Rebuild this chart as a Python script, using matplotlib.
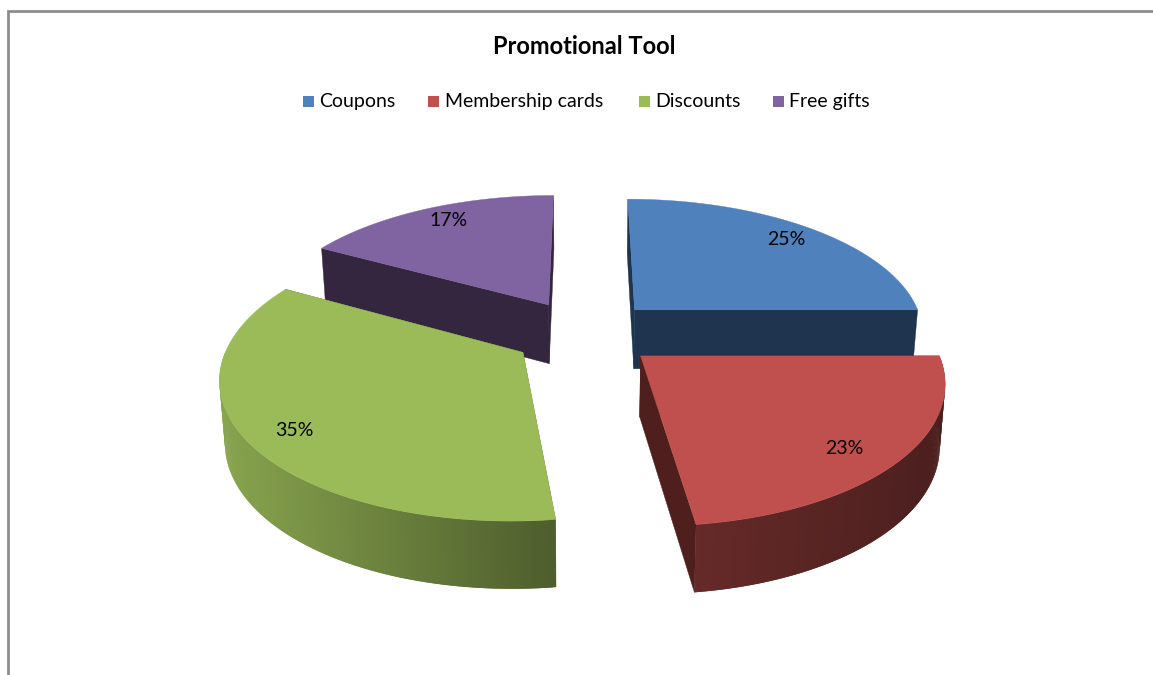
import matplotlib
matplotlib.use("Agg")
import matplotlib.pyplot as plt
import numpy as np

title = "Promotional Tool"
categories = ["Coupons", "Membership cards", "Discounts", "Free gifts"]
percents = [25, 23, 35, 17]

top_colors = ["#4F81BD", "#C0504D", "#9BBB59", "#8064A2"]
cut_colors = ["#1F344E", "#4F1F1E", "#5A6E33", "#35263F"]
# brightness of the outer wall, by pixel column
wall_x = [217, 554, 692, 945]
wall_shade = [0.88, 0.50, 0.53, 0.39]

legend_squares = [303, 428, 639, 773]
legend_text = [319.5, 445, 655.5, 789]
# small pixel nudges for the percent labels
label_dx = [9, 2, -11, 0]
label_dy = [-4, 10, 10, -6]

plt.rcParams["font.family"] = ["Lato", "DejaVu Sans"]

# perspective of the pie plane, in pixels
cx, cy = 584.5, 333
sx, sy = 291, 135
persp = 0.159
explode = 0.25
depth = 60
depth_persp = 0.1
shrink = 0.985


def project(X, Y):
    w = 1 - persp * Y
    return cx + X * sx / w, cy + Y * sy / w


def lower(X, Y):
    # same point on the underside of the pie
    w = 1 - persp * Y
    return cx + shrink * X * sx / w, cy + Y * sy / w + depth / (1 - depth_persp * Y)


def rim_points(a0, a1, mid):
    ang = np.radians(np.linspace(a0, a1, max(int(a1 - a0), 2) * 2 + 1))
    ox = explode * np.sin(np.radians(mid))
    oy = -explode * np.cos(np.radians(mid))
    return ang, ox + np.sin(ang), oy - np.cos(ang), ox, oy


def draw_cut(ax, ox, oy, X, Y, cut_col):
    x1, y1 = project(ox, oy)
    x2, y2 = project(X, Y)
    x3, y3 = lower(X, Y)
    x4, y4 = lower(ox, oy)
    ax.fill([x1, x2, x3, x4], [y1, y2, y3, y4], color=cut_col, lw=0.3)


def draw_slice(ax, a0, a1, top_col, cut_col):
    mid = (a0 + a1) / 2
    ang, X, Y, ox, oy = rim_points(a0, a1, mid)

    draw_cut(ax, ox, oy, X[0], Y[0], cut_col)
    draw_cut(ax, ox, oy, X[-1], Y[-1], cut_col)

    # outer wall, front half only; narrow strips so the shading can vary,
    # each one runs into the next so no seams show
    tx, ty = project(X, Y)
    bx, by = lower(X, Y)
    base = np.array(matplotlib.colors.to_rgb(top_col))
    n = len(X)
    for i in range(n - 1):
        if np.cos(ang[i]) >= 0 or np.cos(ang[i + 1]) >= 0.001:
            continue
        j = min(i + 2, n - 1)
        if np.cos(ang[j]) > 0.001:
            j = i + 1
        shade = np.interp((tx[i] + tx[i + 1]) / 2, wall_x, wall_shade)
        ax.fill([tx[i], tx[j], bx[j], bx[i]],
                [ty[i], ty[j], by[j], by[i]],
                color=base * shade, lw=0)

    # top surface
    px, py = project(ox, oy)
    ax.fill(np.r_[px, tx], np.r_[py, ty], color=top_col, lw=0.3)


fig = plt.figure(figsize=(11.53, 6.75), dpi=100)
ax = fig.add_axes([0, 0, 1, 1])
ax.set_xlim(0, 1153)
ax.set_ylim(675, 0)
ax.axis("off")

# frame on the top and left only
ax.plot([7.5, 7.5, 1153], [675, 10.5, 10.5], color="#8C8C8C", lw=2.0,
        solid_joinstyle="miter")

edges = np.cumsum([0] + percents) * 3.6
# back slices first so the front ones overlap them
for i in [3, 0, 2, 1]:
    draw_slice(ax, edges[i], edges[i + 1], top_colors[i], cut_colors[i])

for i in range(len(percents)):
    mid = np.radians((edges[i] + edges[i + 1]) / 2)
    r = explode + 0.8
    lx, ly = project(r * np.sin(mid), -r * np.cos(mid))
    ax.text(lx + label_dx[i], ly + label_dy[i], f"{percents[i]}%", fontsize=14,
            color="black", ha="center", va="center")

ax.text(584, 46.5, title, fontsize=17, fontweight="bold", color="black",
        ha="center", va="center")

for i, name in enumerate(categories):
    ax.fill([legend_squares[i], legend_squares[i] + 11, legend_squares[i] + 11, legend_squares[i]],
            [96, 96, 107, 107], color=top_colors[i], lw=0)
    ax.text(legend_text[i], 107, name, fontsize=14, color="black",
            ha="left", va="baseline")

fig.savefig("out.png", dpi=100)
